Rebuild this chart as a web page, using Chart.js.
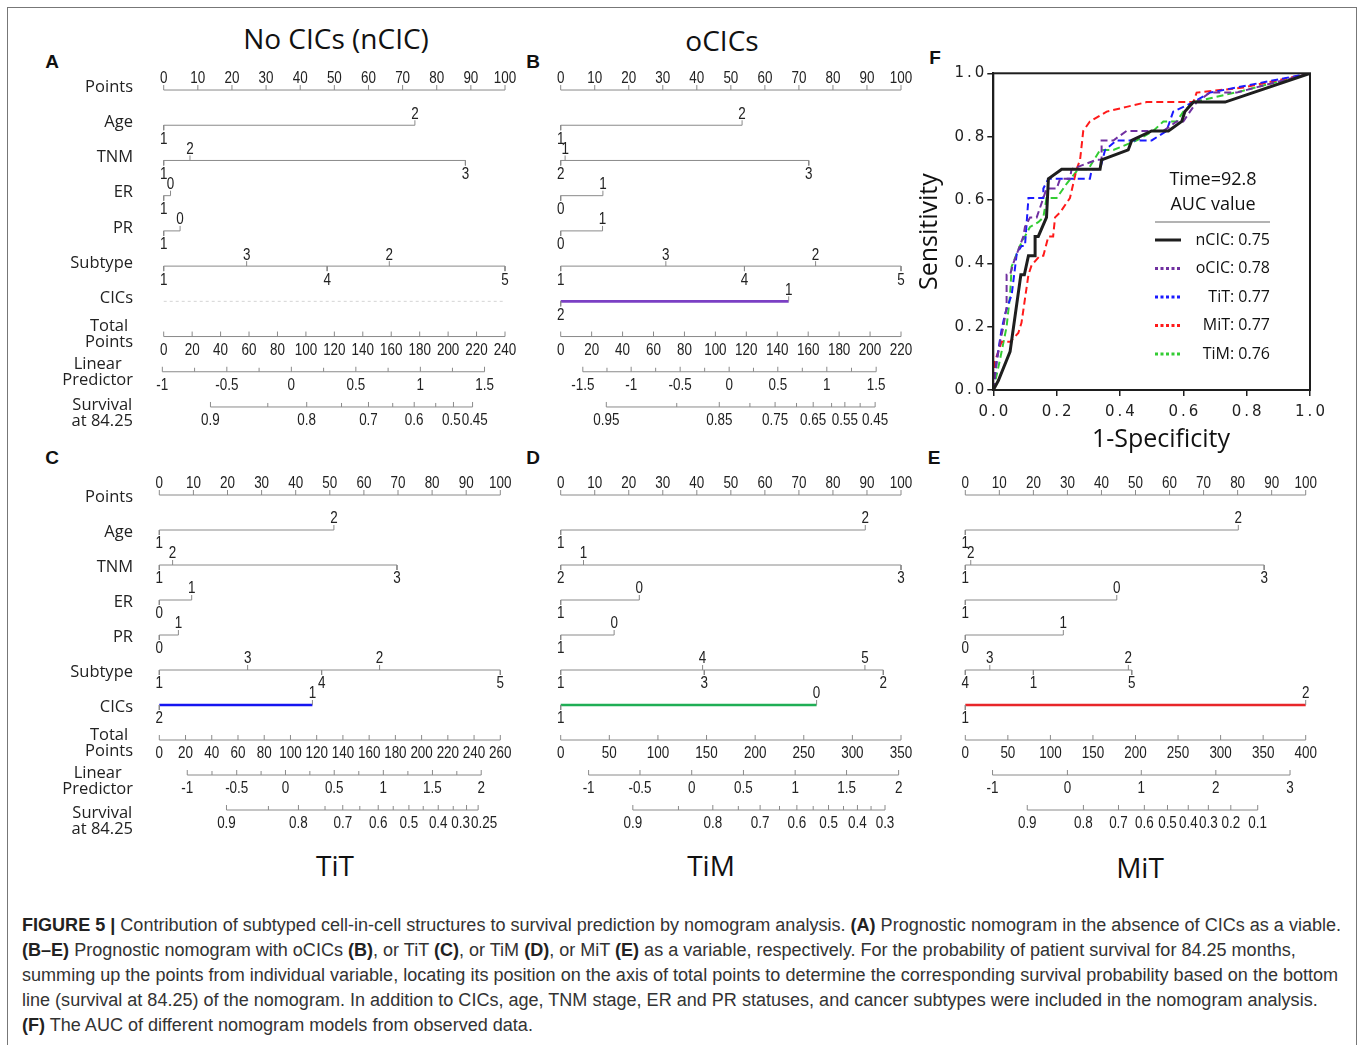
<!DOCTYPE html>
<html><head><meta charset="utf-8">
<script src="https://cdn.jsdelivr.net/npm/chart.js@4.4.1/dist/chart.umd.min.js"></script>
<style>
html,body{margin:0;padding:0;background:#fff;}
body{width:1358px;height:1045px;position:relative;overflow:hidden;font-family:'Open Sans',sans-serif;}
#frame{position:absolute;left:7px;top:7px;width:1350px;height:1100px;border:1.5px solid #777;box-sizing:border-box;}
canvas{position:absolute;}
.t{position:absolute;font-family:'Open Sans',sans-serif;font-size:28px;line-height:28px;color:#111;white-space:nowrap;transform:translateX(-50%);}
.L{position:absolute;font-family:'Liberation Sans',Arial,sans-serif;font-weight:bold;font-size:19px;line-height:19px;color:#111;transform:translate(-50%,-50%);}
#cap{position:absolute;left:22px;top:913px;font-family:'Liberation Sans',Arial,sans-serif;font-size:16px;line-height:25px;color:#333;white-space:nowrap;}
#cap b{color:#222;}
</style></head>
<body>
<div id="frame"></div>
<div class="t" style="left:336px;top:24px">No CICs (nCIC)</div>
<div class="t" style="left:722px;top:26px">oCICs</div>
<div class="t" style="left:335px;top:851px">TiT</div>
<div class="t" style="left:711px;top:851px">TiM</div>
<div class="t" style="left:1140px;top:853px">MiT</div>
<div class="L" style="left:52px;top:61px">A</div>
<div class="L" style="left:533px;top:61px">B</div>
<div class="L" style="left:52px;top:457px">C</div>
<div class="L" style="left:533px;top:457px">D</div>
<div class="L" style="left:934px;top:457px">E</div>
<div class="L" style="left:935px;top:57px">F</div>
<canvas id="cA"></canvas><canvas id="cB"></canvas><canvas id="cC"></canvas>
<canvas id="cD"></canvas><canvas id="cE"></canvas><canvas id="cF"></canvas>
<div id="cap">
<div id="cap1"><b>FIGURE 5 |</b> Contribution of subtyped cell-in-cell structures to survival prediction by nomogram analysis. <b>(A)</b> Prognostic nomogram in the absence of CICs as a viable.</div>
<div><b>(B–E)</b> Prognostic nomogram with oCICs <b>(B)</b>, or TiT <b>(C)</b>, or TiM <b>(D)</b>, or MiT <b>(E)</b> as a variable, respectively. For the probability of patient survival for 84.25 months,</div>
<div>summing up the points from individual variable, locating its position on the axis of total points to determine the corresponding survival probability based on the bottom</div>
<div>line (survival at 84.25) of the nomogram. In addition to CICs, age, TNM stage, ER and PR statuses, and cancer subtypes were included in the nomogram analysis.</div>
<div><b>(F)</b> The AUC of different nomogram models from observed data.</div>
</div>
<script>
// ---------------- DATA ----------------
const rowNames = ["Points","Age","TNM","ER","PR","Subtype","CICs","Total\nPoints","Linear\nPredictor","Survival\nat 84.25"];
const pointTicks = [0,10,20,30,40,50,60,70,80,90,100];

// Panel A: No CICs (nCIC)  [level label, points]
const A_age = [["1",0],["2",73.6]];
const A_tnm = [["1",0],["2",7.7],["3",88.4]];
const A_er = [["1",0],["0",2.0]];
const A_pr = [["1",0],["0",4.8]];
const A_subtype = [["1",0],["3",24.3],["4",47.9],["2",66.1],["5",100]];
const A_cics = [];
const A_totalTicks = [0,20,40,60,80,100,120,140,160,180,200,220,240];
const A_lpTicks = [-1,-0.5,0,0.5,1,1.5];
const A_lpPos = [-0.4,18.5,37.4,56.3,75.2,94.0];
const A_survLabels = ["0.9","0.8","0.7","0.6","0.5","0.45"];
const A_survPos = [13.7,41.9,60.0,73.4,84.9,90.5];
const A_survMinorPos = [30.5,52.1,67.1,79.7];

// Panel B: oCICs
const B_age = [["1",0],["2",53.3]];
const B_tnm = [["2",0],["1",1.3],["3",72.9]];
const B_er = [["0",0],["1",12.4]];
const B_pr = [["0",0],["1",12.3]];
const B_subtype = [["1",0],["3",30.9],["4",54.0],["2",74.9],["5",100]];
const B_cics = [["2",0],["1",67.0]];
const B_totalTicks = [0,20,40,60,80,100,120,140,160,180,200,220];
const B_lpTicks = [-1.5,-1,-0.5,0,0.5,1,1.5];
const B_lpPos = [6.5,20.7,35.1,49.5,63.8,78.2,92.7];
const B_survLabels = ["0.95","0.85","0.75","0.65","0.55","0.45"];
const B_survPos = [13.4,46.6,63.0,74.2,83.5,92.4];
const B_survMinorPos = [34.1,55.6,69.3,79.6,88.0];

// Panel C: TiT
const C_age = [["1",0],["2",51.2]];
const C_tnm = [["1",0],["2",3.9],["3",69.7]];
const C_er = [["0",0],["1",9.5]];
const C_pr = [["0",0],["1",5.6]];
const C_subtype = [["1",0],["3",25.9],["4",47.6],["2",64.6],["5",100]];
const C_cics = [["2",0],["1",44.9]];
const C_totalTicks = [0,20,40,60,80,100,120,140,160,180,200,220,240,260];
const C_lpTicks = [-1,-0.5,0,0.5,1,1.5,2];
const C_lpPos = [8.2,22.7,37.0,51.3,65.7,80.1,94.4];
const C_survLabels = ["0.9","0.8","0.7","0.6","0.5","0.4","0.3","0.25"];
const C_survPos = [19.7,40.8,53.8,64.2,73.2,81.8,90.1,93.5];
const C_survMinorPos = [32.0,48.6,58.8,68.6,77.4,86.2];

// Panel D: TiM
const D_age = [["1",0],["2",89.5]];
const D_tnm = [["2",0],["1",6.7],["3",100]];
const D_er = [["1",0],["0",23.1]];
const D_pr = [["1",0],["0",15.7]];
const D_subtype = [["1",0],["4",41.7],["3",42.2],["5",89.4],["2",94.8]];
const D_cics = [["1",0],["0",75.2]];
const D_totalTicks = [0,50,100,150,200,250,300,350];
const D_lpTicks = [-1,-0.5,0,0.5,1,1.5,2];
const D_lpPos = [8.2,23.3,38.5,53.7,68.9,84.0,99.3];
const D_survLabels = ["0.9","0.8","0.7","0.6","0.5","0.4","0.3"];
const D_survPos = [21.2,44.7,58.6,69.4,78.7,87.2,95.3];
const D_survMinorPos = [34.6,52.2,64.3,74.2,83.1,91.2];

// Panel E: MiT
const E_age = [["1",0],["2",80.2]];
const E_tnm = [["1",0],["2",1.6],["3",87.8]];
const E_er = [["1",0],["0",44.5]];
const E_pr = [["0",0],["1",28.8]];
const E_subtype = [["4",0],["3",7.2],["1",20.0],["2",47.9],["5",48.9]];
const E_cics = [["1",0],["2",100]];
const E_totalTicks = [0,50,100,150,200,250,300,350,400];
const E_lpTicks = [-1,0,1,2,3];
const E_lpPos = [8.0,30.0,51.7,73.6,95.4];
const E_survLabels = ["0.9","0.8","0.7","0.6","0.5","0.4","0.3","0.2","0.1"];
const E_survPos = [18.2,34.7,45.0,52.6,59.4,65.5,71.4,78.0,85.9];
const E_survMinorPos = [];

// Panel F: ROC curves [1-specificity, sensitivity]
const rocNames = ["nCIC","oCIC","TiT","MiT","TiM"];
const rocAUC = [0.75,0.78,0.77,0.77,0.76];
const rocTime = 92.8;
const roc_nCIC = [[0,0],[0.016,0.03],[0.053,0.121],[0.087,0.364],[0.098,0.364],[0.111,0.424],[0.132,0.424],[0.132,0.485],[0.142,0.485],[0.168,0.545],[0.174,0.667],[0.216,0.697],[0.337,0.697],[0.342,0.727],[0.426,0.758],[0.437,0.788],[0.5,0.818],[0.553,0.818],[0.595,0.848],[0.605,0.879],[0.632,0.909],[0.732,0.909],[1,1]];
const roc_oCIC = [[0,0],[0.011,0.09],[0.021,0.15],[0.032,0.2],[0.042,0.263],[0.042,0.364],[0.053,0.364],[0.063,0.4],[0.084,0.455],[0.095,0.485],[0.1,0.515],[0.116,0.545],[0.137,0.545],[0.158,0.606],[0.168,0.636],[0.2,0.636],[0.211,0.667],[0.242,0.667],[0.247,0.697],[0.326,0.727],[0.342,0.727],[0.342,0.788],[0.379,0.788],[0.421,0.818],[0.537,0.818],[0.579,0.848],[0.6,0.848],[0.621,0.879],[0.642,0.909],[0.684,0.939],[0.768,0.939],[1,1]];
const roc_TiT = [[0,0],[0.011,0.095],[0.026,0.19],[0.037,0.24],[0.047,0.27],[0.058,0.3],[0.074,0.43],[0.089,0.455],[0.1,0.455],[0.111,0.606],[0.158,0.606],[0.158,0.636],[0.174,0.667],[0.305,0.667],[0.311,0.697],[0.337,0.697],[0.353,0.758],[0.389,0.788],[0.5,0.788],[0.547,0.818],[0.568,0.879],[0.632,0.909],[0.684,0.939],[1,1]];
const roc_MiT = [[0,0],[0.005,0.09],[0.026,0.152],[0.053,0.152],[0.079,0.18],[0.089,0.212],[0.111,0.364],[0.121,0.394],[0.147,0.424],[0.158,0.424],[0.174,0.485],[0.189,0.485],[0.195,0.545],[0.211,0.561],[0.242,0.606],[0.263,0.697],[0.274,0.727],[0.284,0.818],[0.305,0.848],[0.358,0.879],[0.421,0.894],[0.484,0.909],[0.575,0.909],[0.632,0.909],[0.642,0.939],[0.79,0.955],[1,1]];
const roc_TiM = [[0,0],[0.021,0.095],[0.042,0.2],[0.053,0.3],[0.058,0.39],[0.084,0.455],[0.1,0.485],[0.116,0.515],[0.142,0.53],[0.158,0.545],[0.168,0.606],[0.2,0.606],[0.232,0.652],[0.268,0.697],[0.3,0.697],[0.337,0.758],[0.379,0.758],[0.453,0.788],[0.505,0.818],[0.537,0.848],[0.579,0.848],[0.6,0.879],[0.632,0.909],[0.789,0.945],[1,1]];

// ---------------- NOMOGRAM BUILDER ----------------
const LINE_GRAY = '#8a8a8a';
const TICK_FONT = '16px "Liberation Sans", Arial, sans-serif';
const TICK_SX = 0.84;
const ROW_FONT = '16.5px "Open Sans", sans-serif';

function nomogram(id, P) {
  const el = document.getElementById(id);
  const topExtra = 40, botExtra = 34;
  const top = P.row0 - topExtra;
  const height = Math.round(topExtra + 9 * P.step + botExtra);
  const left = P.showLabels ? 20 : Math.round(P.x0 - 30);
  const width = Math.round(P.x100 + 40 - left);
  el.style.left = left + 'px'; el.style.top = top + 'px';
  el.style.width = width + 'px'; el.style.height = height + 'px';
  el.width = width; el.height = height;
  const tl = 5 / P.step, tlm = 4 / P.step;
  const gray = [], thick = [], faint = [], labels = [];
  const seg = (arr, x1, y1, x2, y2) => { arr.push({x:x1,y:y1},{x:x2,y:y2},{x:x2,y:null}); };
  // Points row
  seg(gray, 0, 0, 100, 0);
  pointTicks.forEach(v => { seg(gray, v, 0, v, -tl); labels.push({t:String(v), x:v, r:0, a:true}); });
  // categorical variables
  P.vars.forEach((lv, i) => {
    const r = i + 1;
    if (!lv.length) { seg(faint, 0, r, 100, r); return; }
    const s = lv.slice().sort((a, b) => a[1] - b[1]);
    const mx = s[s.length - 1][1];
    if (r === 6 && P.cicsColor) seg(thick, 0, r, mx, r); else seg(gray, 0, r, mx, r);
    s.forEach((e, k) => {
      const up = k % 2 === 1;
      seg(gray, e[1], r, e[1], up ? r - tl : r + tl);
      labels.push({t:e[0], x:e[1], r, a:up});
    });
  });
  // Total points
  const tmax = P.total[P.total.length - 1];
  seg(gray, 0, 7, 100, 7);
  P.total.forEach(v => { const x = v / tmax * 100; seg(gray, x, 7, x, 7 - tl); labels.push({t:String(v), x, r:7, a:false}); });
  // Linear predictor
  seg(gray, P.lpPos[0], 8, P.lpPos[P.lpPos.length - 1], 8);
  P.lpPos.forEach((x, k) => { seg(gray, x, 8, x, 8 - tl); labels.push({t:String(P.lpTicks[k]), x, r:8, a:false}); });
  if (P.lpMinor) for (let k = 0; k < P.lpPos.length - 1; k++) { const x = (P.lpPos[k] + P.lpPos[k+1]) / 2; seg(gray, x, 8, x, 8 - tlm); }
  // Survival
  const allS = P.survPos.concat(P.survMinor);
  seg(gray, Math.min(...allS), 9, Math.max(...allS), 9);
  P.survPos.forEach((x, k) => { seg(gray, x, 9, x, 9 - tl); labels.push({t:P.survLabels[k], x, r:9, a:false}); });
  P.survMinor.forEach(x => seg(gray, x, 9, x, 9 - tlm));

  const textPlugin = {
    id: 'nomoText',
    afterDraw(chart) {
      const ctx = chart.ctx, xs = chart.scales.x, ys = chart.scales.y;
      ctx.save();
      ctx.fillStyle = '#222';
      ctx.font = TICK_FONT;
      ctx.textAlign = 'center'; ctx.textBaseline = 'middle';
      // group labels by row and side, avoid overlaps like the reference
      const groups = {};
      labels.forEach(L => { const k = L.r + (L.a ? 'a' : 'b'); (groups[k] = groups[k] || []).push(L); });
      Object.values(groups).forEach(g => {
        g.sort((p, q) => p.x - q.x);
        const items = g.map(L => ({L, cx: xs.getPixelForValue(L.x), w: ctx.measureText(L.t).width * TICK_SX}));
        for (let k = 1; k < items.length; k++) {
          const prev = items[k-1], cur = items[k];
          const gap = (cur.cx - cur.w / 2) - (prev.cx + prev.w / 2);
          if (gap < 1) { const d = (1 - gap) / 2; prev.cx -= d; cur.cx += d; }
        }
        items.forEach(it => {
          const py = ys.getPixelForValue(it.L.r) + (it.L.a ? -11 : 14);
          ctx.save(); ctx.translate(it.cx, py); ctx.scale(TICK_SX, 1);
          ctx.fillText(it.L.t, 0, 0); ctx.restore();
        });
      });
      if (P.showLabels) {
        ctx.font = ROW_FONT;
        const rx = 133 - left;
        const multiDy = [1, 4, 9];
        rowNames.forEach((nm, r) => {
          const py = ys.getPixelForValue(r);
          const lines = nm.split('\n');
          if (lines.length === 1) {
            ctx.textAlign = 'right';
            ctx.fillText(nm, rx, py + P.labelDy);
          } else {
            const w = Math.max(...lines.map(s => ctx.measureText(s).width));
            const cx = rx - w / 2;
            const cy = py + P.labelDy + multiDy[r - 7];
            ctx.textAlign = 'center';
            ctx.fillText(lines[0], cx, cy - 8);
            ctx.fillText(lines[1], cx, cy + 8);
          }
        });
      }
      ctx.restore();
    }
  };
  const ds = (data, color, w, dash) => ({data, borderColor:color, borderWidth:w, borderDash:dash || [], pointRadius:0, pointHoverRadius:0, spanGaps:false, clip:false, tension:0, fill:false});
  new Chart(el, {
    type: 'line',
    data: { datasets: [ ds(gray, LINE_GRAY, 1), ds(thick, P.cicsColor || LINE_GRAY, 2.6), ds(faint, '#d4d4d4', 1, [3,3]) ] },
    options: {
      responsive: false, animation: false, events: [],
      layout: { padding: { left: P.x0 - left, right: width - (P.x100 - left), top: 0, bottom: 0 } },
      scales: {
        x: { type:'linear', min:0, max:100, display:false },
        y: { type:'linear', min:-topExtra / P.step, max:9 + botExtra / P.step, reverse:true, display:false }
      },
      plugins: { legend:{display:false}, tooltip:{enabled:false} }
    },
    plugins: [textPlugin]
  });
}

nomogram('cA', {x0:163.7, x100:505, row0:89.5, step:35.2, showLabels:true, labelDy:-3,
  vars:[A_age,A_tnm,A_er,A_pr,A_subtype,A_cics], cicsColor:null,
  total:A_totalTicks, lpTicks:A_lpTicks, lpPos:A_lpPos, lpMinor:true,
  survLabels:A_survLabels, survPos:A_survPos, survMinor:A_survMinorPos});
nomogram('cB', {x0:560.7, x100:901, row0:89.5, step:35.2, showLabels:false,
  vars:[B_age,B_tnm,B_er,B_pr,B_subtype,B_cics], cicsColor:'#7b3fc4',
  total:B_totalTicks, lpTicks:B_lpTicks, lpPos:B_lpPos, lpMinor:true,
  survLabels:B_survLabels, survPos:B_survPos, survMinor:B_survMinorPos});
nomogram('cC', {x0:159.3, x100:500.3, row0:495, step:35.0, showLabels:true, labelDy:2,
  vars:[C_age,C_tnm,C_er,C_pr,C_subtype,C_cics], cicsColor:'#1515f0',
  total:C_totalTicks, lpTicks:C_lpTicks, lpPos:C_lpPos, lpMinor:true,
  survLabels:C_survLabels, survPos:C_survPos, survMinor:C_survMinorPos});
nomogram('cD', {x0:560.7, x100:901, row0:495, step:35.0, showLabels:false,
  vars:[D_age,D_tnm,D_er,D_pr,D_subtype,D_cics], cicsColor:'#1fae55',
  total:D_totalTicks, lpTicks:D_lpTicks, lpPos:D_lpPos, lpMinor:false,
  survLabels:D_survLabels, survPos:D_survPos, survMinor:D_survMinorPos});
nomogram('cE', {x0:965.3, x100:1305.7, row0:495, step:35.0, showLabels:false,
  vars:[E_age,E_tnm,E_er,E_pr,E_subtype,E_cics], cicsColor:'#e8262a',
  total:E_totalTicks, lpTicks:E_lpTicks, lpPos:E_lpPos, lpMinor:false,
  survLabels:E_survLabels, survPos:E_survPos, survMinor:E_survMinorPos});

// ---------------- ROC (F) ----------------
(function(){
  const el = document.getElementById('cF');
  const L = 910, T = 40, W = 440, H = 420;
  el.style.left = L + 'px'; el.style.top = T + 'px'; el.style.width = W + 'px'; el.style.height = H + 'px';
  el.width = W; el.height = H;
  const toXY = a => a.map(p => ({x:p[0], y:p[1]}));
  const series = {nCIC:roc_nCIC, oCIC:roc_oCIC, TiT:roc_TiT, MiT:roc_MiT, TiM:roc_TiM};
  const colors = {nCIC:'#1e1e1e', oCIC:'#7030a0', TiT:'#1a1aff', MiT:'#ff1a1a', TiM:'#33cc33'};
  const fmt = v => v.toFixed(1).split('').join('\u2009');
  const tickFont = {family:'"DejaVu Sans", sans-serif', size:15};
  const datasets = rocNames.map(n => ({
    label:n, data:toXY(series[n]), borderColor:colors[n],
    borderWidth: n === 'nCIC' ? 3 : 2, borderDash: n === 'nCIC' ? [] : [7,4],
    pointRadius:0, tension:0, fill:false
  }));
  const deco = {
    id:'rocDeco',
    afterDraw(chart) {
      const ctx = chart.ctx, a = chart.chartArea;
      ctx.save();
      ctx.strokeStyle = '#1e1e1e'; ctx.lineWidth = 2;
      ctx.strokeRect(a.left, a.top, a.right - a.left, a.bottom - a.top);
      // axis titles
      ctx.fillStyle = '#111';
      ctx.font = '25px "Open Sans", sans-serif';
      ctx.textAlign = 'center'; ctx.textBaseline = 'middle';
      ctx.fillText('1-Specificity', 1161 - L, 440 - T);
      ctx.save();
      ctx.translate(930 - L, (a.top + a.bottom) / 2);
      ctx.rotate(-Math.PI / 2);
      ctx.fillText('Sensitivity', 0, 0);
      ctx.restore();
      // legend
      const cx = 1213 - L;
      ctx.font = '18px "Open Sans", sans-serif';
      ctx.fillText('Time=' + rocTime, cx, 180 - T);
      ctx.fillText('AUC value', cx, 205 - T);
      ctx.strokeStyle = '#9a9a9a'; ctx.lineWidth = 1.5;
      ctx.beginPath(); ctx.moveTo(1155 - L, 222 - T); ctx.lineTo(1270 - L, 222 - T); ctx.stroke();
      ctx.font = '16px "Open Sans", sans-serif';
      ctx.textAlign = 'right';
      rocNames.forEach((n, k) => {
        const y = 240 - T + k * 28.5;
        ctx.strokeStyle = colors[n]; ctx.lineWidth = 3;
        ctx.setLineDash(n === 'nCIC' ? [] : [3, 2.5]);
        ctx.beginPath(); ctx.moveTo(1155 - L, y); ctx.lineTo(1181 - L, y); ctx.stroke();
        ctx.setLineDash([]);
        ctx.fillStyle = '#111';
        ctx.fillText(n + ': ' + rocAUC[k].toFixed(2), 1270 - L, y);
      });
      ctx.restore();
    }
  };
  new Chart(el, {
    type:'line',
    data:{datasets},
    options:{
      responsive:false, animation:false, events:[],
      layout:{padding:{left:0, right:40, top:33.3, bottom:0}},
      scales:{
        x:{type:'linear', min:0, max:1,
           ticks:{stepSize:0.2, padding:7, font:tickFont, color:'#222', callback:v => fmt(v), maxRotation:0},
           grid:{display:true, drawOnChartArea:false, drawTicks:true, tickLength:6, color:'#1e1e1e', lineWidth:1.5},
           border:{display:true, color:'#1e1e1e', width:2},
           afterFit:s => { s.height = 70; }},
        y:{type:'linear', min:0, max:1,
           ticks:{stepSize:0.2, padding:3, font:tickFont, color:'#222', callback:v => fmt(v)},
           grid:{display:true, drawOnChartArea:false, drawTicks:true, tickLength:6, color:'#1e1e1e', lineWidth:1.5},
           border:{display:true, color:'#1e1e1e', width:2},
           afterFit:s => { s.width = 83.3; }}
      },
      plugins:{legend:{display:false}, tooltip:{enabled:false}}
    },
    plugins:[deco]
  });
})();

// fit caption line width to reference
(function(){
  const c1 = document.getElementById('cap1');
  const r = c1.getBoundingClientRect();
  const target = 1320;
  const fs = 16 * target / r.width;
  document.getElementById('cap').style.fontSize = fs.toFixed(2) + 'px';
})();
</script>
</body></html>
